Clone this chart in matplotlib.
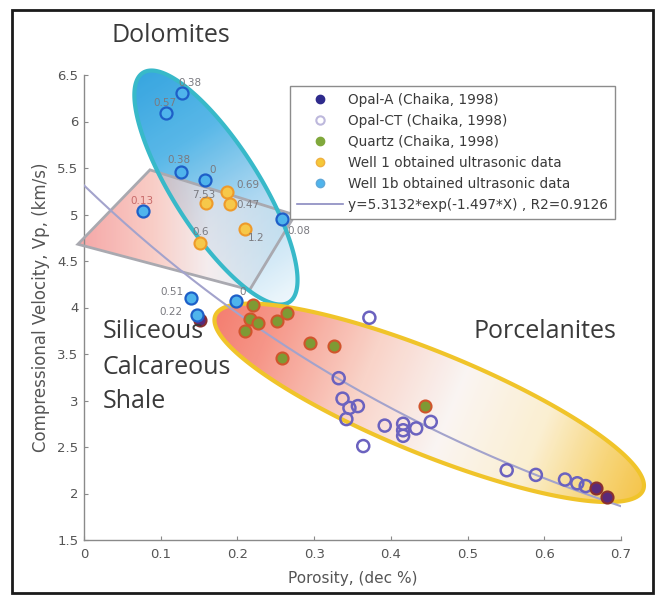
import numpy as np
import matplotlib
matplotlib.use("Agg")
import matplotlib.pyplot as plt
from matplotlib.patches import Polygon, Rectangle
from matplotlib.lines import Line2D

# ---------------- data ----------------
opal_a_x = [0.151, 0.668, 0.682]
opal_a_y = [3.87, 2.06, 1.96]

opal_ct_x = [0.372, 0.332, 0.337, 0.346, 0.357, 0.342, 0.364, 0.392, 0.416, 0.416,
             0.416, 0.433, 0.452, 0.551, 0.589, 0.627, 0.643, 0.654]
opal_ct_y = [3.89, 3.24, 3.02, 2.92, 2.94, 2.80, 2.51, 2.73, 2.75, 2.68,
             2.62, 2.70, 2.77, 2.25, 2.20, 2.15, 2.11, 2.08]

quartz_x = [0.220, 0.216, 0.227, 0.210, 0.252, 0.265, 0.295, 0.326, 0.258, 0.444]
quartz_y = [4.03, 3.88, 3.83, 3.75, 3.86, 3.94, 3.62, 3.59, 3.46, 2.94]

well1_x = [0.186, 0.159, 0.190, 0.210, 0.151]
well1_y = [5.24, 5.12, 5.11, 4.84, 4.69]
well1_labels = ["0.69", "7.53", "0.47", "1.2", "0.6"]

well1b_x = [0.128, 0.107, 0.126, 0.158, 0.077, 0.258, 0.140, 0.147, 0.198]
well1b_y = [6.31, 6.09, 5.46, 5.37, 5.04, 4.95, 4.10, 3.92, 4.07]
well1b_labels = ["0.38", "0.57", "0.38", "0", "0.13", "0.08", "0.51", "0.22", "0"]

fit_a, fit_b = 5.3132, -1.497
fit_label = "y=5.3132*exp(-1.497*X) , R2=0.9126"

xticks = [0, 0.1, 0.2, 0.3, 0.4, 0.5, 0.6, 0.7]
xticklabels = ["0", "0.1", "0.2", "0.3", "0.4", "0.5", "0.6", "0.7"]
yticks = [1.5, 2, 2.5, 3, 3.5, 4, 4.5, 5, 5.5, 6, 6.5]
yticklabels = ["1.5", "2", "2.5", "3", "3.5", "4", "4.5", "5", "5.5", "6", "6.5"]

# label offsets (pixels) for annotation text
well1_off = [(10, 7), (-14, 8), (7, -1), (3, -9), (-7, 11)]
well1b_off = [(-4, 10), (-13, 10), (-13, 12), (4, 10), (-13, 10), (5, -12), (-31, 6), (-37, 3), (3, 9)]
well1b_lab_colors = ["#7a7a80"] * 4 + ["#c86a6a"] + ["#7a7a80"] * 4

# ---------------- figure ----------------
W, H = 661, 599
fig = plt.figure(figsize=(W / 100, H / 100), dpi=100)
AX_L, AX_R, AX_T, AX_B = 84, 621, 75, 540
ax = fig.add_axes([AX_L / W, (H - AX_B) / H, (AX_R - AX_L) / W, (AX_B - AX_T) / H])
XMIN, XMAX, YMIN, YMAX = 0, 0.7, 1.5, 6.5
sx = (AX_R - AX_L) / (XMAX - XMIN)
sy = (AX_B - AX_T) / (YMAX - YMIN)

fig.patches.append(Rectangle((12 / W, 1 - 593 / H), (653 - 12) / W, (593 - 10) / H,
                             transform=fig.transFigure, fill=False, ec="#1a1a1a", lw=2))

SANS = ["DejaVu Sans"]


def interp_colors(t, stops):
    ts = [s[0] for s in stops]
    out = np.zeros(t.shape + (3,))
    for c in range(3):
        out[..., c] = np.interp(t, ts, [s[1][c] / 255 for s in stops])
    return out


def ellipse_verts(cx, cy, a, b, ang):
    th = np.linspace(0, 2 * np.pi, 400)
    A = np.deg2rad(ang)
    u, v = a * np.cos(th), b * np.sin(th)
    X = u * np.cos(A) - v * np.sin(A)
    Y = u * np.sin(A) + v * np.cos(A)
    return np.column_stack([cx + X / sx, cy + Y / sy])


def gradient_fill(verts, tfunc, stops, alpha, z):
    x0, y0 = verts.min(axis=0)
    x1, y1 = verts.max(axis=0)
    gx, gy = np.meshgrid(np.linspace(x0, x1, 400), np.linspace(y0, y1, 400))
    t = np.clip(tfunc(gx, gy), 0, 1)
    rgb = interp_colors(t, stops)
    rgba = np.dstack([rgb, np.full(t.shape, alpha)])
    im = ax.imshow(rgba, extent=[x0, x1, y0, y1], origin="lower", aspect="auto",
                   zorder=z, interpolation="bilinear")
    clip = Polygon(verts, closed=True, transform=ax.transData, fc="none", ec="none")
    im.set_clip_path(clip)
    im.set_clip_box(fig.bbox)
    return im


def major_t(e):
    def f(gx, gy):
        A = np.deg2rad(e[4])
        p = ((gx - e[0]) * sx * np.cos(A) + (gy - e[1]) * sy * np.sin(A)) / e[2]
        return (p + 1) / 2
    return f


# ---------- Dolomites ellipse ----------
e1 = (0.172, 5.29, 136, 43, -57.5)
v1 = ellipse_verts(*e1)
gradient_fill(v1, major_t(e1), [(0, (38, 158, 222)), (0.3, (75, 178, 230)), (0.6, (165, 212, 240)),
                                (1, (238, 247, 252))], 0.92, 1)

# ---------- parallelogram ----------
par_x = np.array([0.086, 0.275, 0.216, -0.008])
par_y = np.array([5.48, 4.995, 4.19, 4.68])
pv = np.column_stack([par_x, par_y])


def t_par(gx, gy):
    return (gx - par_x.min()) / (par_x.max() - par_x.min())


gradient_fill(pv, t_par, [(0, (242, 128, 128)), (0.35, (246, 185, 175)), (0.6, (240, 230, 232)),
                          (1, (185, 220, 240))], 0.7, 2)

# ---------- Porcelanites ellipse ----------
e2 = (0.450, 2.975, 231, 51, -22.2)
v2 = ellipse_verts(*e2)
gradient_fill(v2, major_t(e2), [(0, (244, 115, 100)), (0.12, (246, 140, 125)), (0.35, (249, 208, 196)),
                                (0.55, (250, 244, 242)), (0.75, (251, 238, 205)), (0.9, (247, 210, 110)),
                                (1, (245, 192, 60))], 0.92, 1)

# outlines
ax.add_patch(Polygon(pv, closed=True, fc="none", ec="#a9a9b0", lw=2, zorder=3, clip_on=False))
ax.add_patch(Polygon(v1, closed=True, fc="none", ec="#38b9c9", lw=3, zorder=3, clip_on=False))
ax.add_patch(Polygon(v2, closed=True, fc="none", ec="#f0c42a", lw=3, zorder=3, clip_on=False))

# fit line
xf = np.linspace(0, 0.7, 200)
ax.plot(xf, fit_a * np.exp(fit_b * xf), color="#a3a3cc", lw=1.5, zorder=4)

# points
ms = 75
ax.scatter(opal_ct_x, opal_ct_y, s=ms, facecolors="none", edgecolors="#6b62bf", linewidths=1.8, zorder=5)
ax.scatter(quartz_x, quartz_y, s=ms, facecolors="#7e9a34", edgecolors="#d0552c", linewidths=1.5, zorder=5)
ax.scatter(opal_a_x, opal_a_y, s=ms, facecolors="#5a2a7a", edgecolors="#8a3030", linewidths=1.5, zorder=5)
ax.scatter(well1_x, well1_y, s=ms, facecolors="#f6c84a", edgecolors="#ee9a2a", linewidths=1.5, zorder=5)
ax.scatter(well1b_x, well1b_y, s=ms, facecolors="#4fb4ec", edgecolors="#1e5fc8", linewidths=1.6, zorder=5)

lab_font = dict(fontsize=7.5, family=SANS, zorder=6,
                textcoords="offset pixels", ha="left", va="center")
for x, y, s, (dx, dy) in zip(well1_x, well1_y, well1_labels, well1_off):
    ax.annotate(s, (x, y), xytext=(dx, dy), color="#7a7a80", **lab_font)
for x, y, s, (dx, dy), c in zip(well1b_x, well1b_y, well1b_labels, well1b_off, well1b_lab_colors):
    ax.annotate(s, (x, y), xytext=(dx, dy), color=c, **lab_font)

# axes styling
ax.set_xlim(XMIN, XMAX)
ax.set_ylim(YMIN, YMAX)
ax.set_xticks(xticks)
ax.set_xticklabels(xticklabels)
ax.set_yticks(yticks)
ax.set_yticklabels(yticklabels)
for sp in ["top", "right"]:
    ax.spines[sp].set_visible(False)
for sp in ["left", "bottom"]:
    ax.spines[sp].set_color("#8a8a8a")
    ax.spines[sp].set_linewidth(1)
ax.tick_params(direction="in", length=3, width=0.8, colors="#8a8a8a", labelcolor="#555555",
               labelsize=9.5, pad=4)
ax.tick_params(axis="x", pad=6)
for lbl in ax.get_xticklabels() + ax.get_yticklabels():
    lbl.set_family(SANS)
ax.set_facecolor("none")
ax.set_xlabel("Porosity, (dec %)", fontsize=11, color="#555555", family=SANS, labelpad=7)
ax.set_ylabel("Compressional Velocity, Vp, (km/s)", fontsize=12, color="#555555",
              family=SANS, labelpad=5)

# legend
handles = [
    Line2D([], [], ls="none", marker="o", ms=6, mfc="#2e2a8c", mec="#2e2a8c"),
    Line2D([], [], ls="none", marker="o", ms=6, mfc="white", mec="#bdb8dc", mew=1.5),
    Line2D([], [], ls="none", marker="o", ms=6, mfc="#80a83c", mec="#80a83c"),
    Line2D([], [], ls="none", marker="o", ms=6, mfc="#f5c838", mec="#f0b040"),
    Line2D([], [], ls="none", marker="o", ms=6, mfc="#4fb4ec", mec="#60a8d8"),
    Line2D([], [], color="#8a8ac0", lw=1.2),
]
labels = ["Opal-A (Chaika, 1998)", "Opal-CT (Chaika, 1998)", "Quartz (Chaika, 1998)",
          "Well 1 obtained ultrasonic data", "Well 1b obtained ultrasonic data", fit_label]
leg = ax.legend(handles, labels, loc="upper right",
                bbox_to_anchor=((615 - AX_L) / (AX_R - AX_L), (AX_B - 86) / (AX_B - AX_T)),
                borderaxespad=0, frameon=True, fancybox=False, framealpha=1,
                edgecolor="#8c8c8c", prop={"family": SANS, "size": 9.8},
                handlelength=3.4, handletextpad=0.4, labelspacing=0.52, borderpad=0.5)
leg.get_frame().set_linewidth(1)
leg.set_zorder(20)
for t in leg.get_texts():
    t.set_color("#3a3a3a")

# region texts
big = dict(family=["Open Sans", "DejaVu Sans"], fontsize=18, color="#3a3a3a")
fig.text(171 / W, 1 - 36 / H, "Dolomites", ha="center", va="center", **big)
fig.text(103 / W, 1 - 332 / H, "Siliceous", ha="left", va="center", **big)
fig.text(103 / W, 1 - 367 / H, "Calcareous", ha="left", va="center", **big)
fig.text(103 / W, 1 - 402 / H, "Shale", ha="left", va="center", **big)
fig.text(473 / W, 1 - 332 / H, "Porcelanites", ha="left", va="center", **big)

fig.savefig("out.png", dpi=100)
